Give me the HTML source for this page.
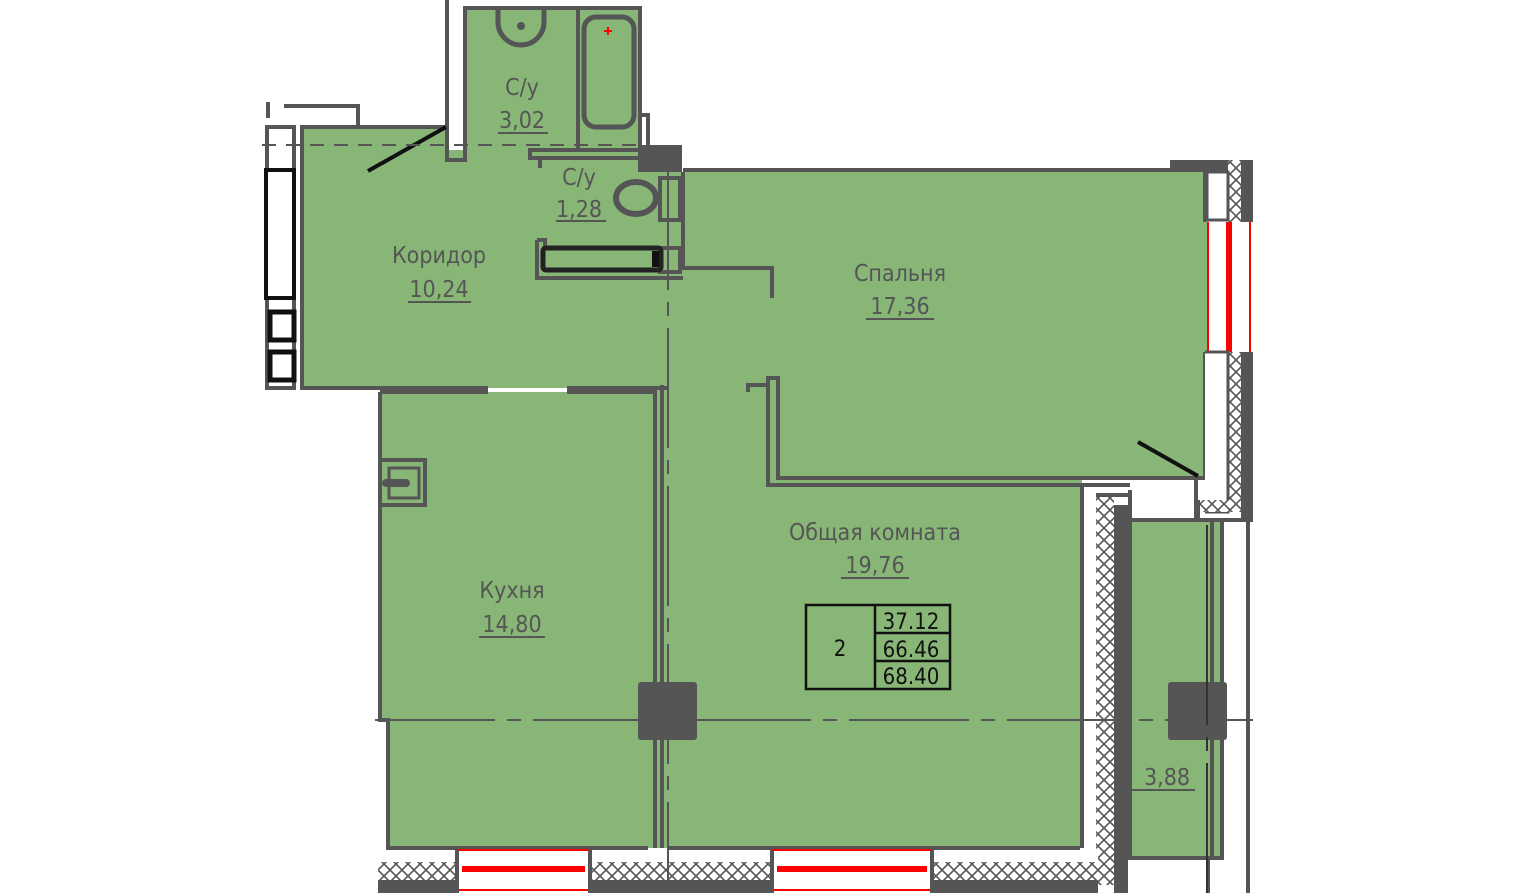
<!DOCTYPE html>
<html><head><meta charset="utf-8"><style>
html,body{margin:0;padding:0;background:#fff;}
svg{display:block;}
text{font-family:"DejaVu Sans Condensed","Liberation Sans",sans-serif;fill:#555;}
</style></head><body>
<svg width="1516" height="893" viewBox="0 0 1516 893" xmlns="http://www.w3.org/2000/svg">
<defs>
<pattern id="h" width="12" height="12" patternUnits="userSpaceOnUse">
<rect width="12" height="12" fill="#fff"/>
<path d="M0 0L12 12M12 0L0 12" stroke="#555" stroke-width="1.6"/>
</pattern>
</defs>
<g fill="#88b677">
<rect x="302" y="127" width="145" height="261"/>
<rect x="447" y="150" width="221" height="238"/>
<rect x="465" y="10" width="175" height="140"/>
<rect x="668" y="172" width="539" height="306"/>
<rect x="655" y="385" width="427" height="463"/>
<rect x="380" y="392" width="275" height="328"/>
<rect x="388" y="720" width="267" height="128"/>
<rect x="1130" y="520" width="92" height="338"/>
</g>
<g fill="none" stroke="#555" stroke-width="4">
<path d="M358 127 V106 H284 M268 102 V118"/>
<path d="M445 127 H302 V388 H488"/>
<path d="M567 388 H668"/>
<rect x="267" y="127" width="27" height="261"/>
<path d="M447 0 V160 H465 V8 H640 V150 H578 V10"/>
<path d="M640 115 H648 V150"/>
<path d="M528 150 H640 M528 158 H640 M540 158 V168 M530 150 V158"/>
<path d="M683 172 V268 H772 V298 M537 240 V278 H683"/>
<path d="M537 240 H545 V248 H683"/>
<rect x="660" y="178" width="20" height="42"/>
<rect x="660" y="248" width="20" height="24"/>
<path d="M683 170 H1205 V222 M1205 352 V478 H778 V378 H768 V385 H748 V392 M768 385 V485 H1082 V848"/>
<path d="M380 392 H488 M567 392 H655 V848 M662 385 V848 M380 392 V720 H388 V848 H648 M668 848 H1080"/>
<path d="M1130 490 V520 H1222 V858 H1130 V520 M1212 520 V858 M1196 478 V520 M1082 485 H1130"/>
<path d="M1248 520 V893 M1208 858 V893"/>
</g>
<path d="M498 10 V22 A23 23 0 0 0 544 22 V10" fill="none" stroke="#555" stroke-width="5"/>
<circle cx="521" cy="26" r="4" fill="#555"/>
<rect x="584" y="17" width="50" height="110" rx="12" fill="none" stroke="#555" stroke-width="5"/>
<path d="M604 31h8M608 27v8" stroke="red" stroke-width="2"/>
<ellipse cx="636" cy="198" rx="20" ry="16" fill="none" stroke="#555" stroke-width="6"/>
<rect x="543" y="248" width="118" height="22" rx="3" fill="none" stroke="#222" stroke-width="5"/>
<rect x="652" y="251" width="7" height="16" fill="#111"/>
<rect x="380" y="460" width="45" height="45" fill="none" stroke="#555" stroke-width="4"/>
<rect x="389" y="468" width="30" height="30" fill="none" stroke="#555" stroke-width="3"/>
<path d="M386 483 H406" stroke="#555" stroke-width="8" stroke-linecap="round"/>
<rect x="266" y="170" width="28" height="128" fill="#fff" stroke="#111" stroke-width="4"/>
<rect x="270" y="312" width="24" height="28" fill="#fff" stroke="#111" stroke-width="5"/>
<rect x="270" y="352" width="24" height="28" fill="#fff" stroke="#111" stroke-width="5"/>
<path d="M368 171 L446 127" stroke="#111" stroke-width="4"/>
<path d="M1138 442 L1198 476" stroke="#111" stroke-width="4"/>
<rect x="638" y="145" width="44" height="27" fill="#555"/>
<rect x="1170" y="160" width="58" height="12" fill="#555"/>
<rect x="638" y="682" width="59" height="58" rx="3" fill="#555"/>
<rect x="1168" y="682" width="59" height="58" rx="3" fill="#555"/>
<rect x="1228" y="160" width="13" height="62" fill="url(#h)"/>
<rect x="1241" y="160" width="12" height="62" fill="#555"/>
<rect x="1207" y="172" width="21" height="48" fill="#fff" stroke="#555" stroke-width="3"/>
<rect x="1207" y="222" width="44" height="130" fill="#fff"/>
<path d="M1208 222 V352 M1250 222 V352" stroke="red" stroke-width="2"/>
<path d="M1229 222 V352" stroke="red" stroke-width="6"/>
<rect x="1228" y="352" width="13" height="160" fill="url(#h)"/>
<rect x="1241" y="352" width="12" height="170" fill="#555"/>
<path d="M1205 352 H1228 V512 H1205" fill="#fff" stroke="#555" stroke-width="3"/>
<rect x="1198" y="500" width="43" height="12" fill="url(#h)"/>
<path d="M1198 500 V520 H1253" stroke="#555" stroke-width="4" fill="none"/>
<rect x="1096" y="495" width="18" height="390" fill="url(#h)"/>
<rect x="1114" y="505" width="14" height="388" fill="#555"/>
<path d="M1096 495 H1130" stroke="#555" stroke-width="4"/>
<rect x="1084" y="490" width="12" height="360" fill="#fff"/>
<rect x="378" y="850" width="720" height="43" fill="#fff"/>
<rect x="378" y="862" width="720" height="18" fill="url(#h)"/>
<rect x="378" y="880" width="720" height="13" fill="#555"/>
<rect x="457" y="850" width="133" height="43" fill="#fff"/>
<rect x="772" y="850" width="160" height="43" fill="#fff"/>
<g stroke="red">
<path d="M457 850H590M457 890H590M772 850H932M772 890H932" stroke-width="2"/>
<path d="M462 869H585M777 869H927" stroke-width="6"/>
</g>
<path d="M457 850V893M590 850V893M772 850V893M932 850V893" stroke="#555" stroke-width="4"/>
<path d="M375 720 H1253" stroke="#555" stroke-width="2" stroke-dasharray="120 12 14 12"/>
<path d="M668 170 V893" stroke="#555" stroke-width="2" stroke-dasharray="120 12 14 12"/>
<path d="M262 145 H640" stroke="#555" stroke-width="2" stroke-dasharray="14 10"/>
<path d="M1207 525 V893" stroke="#333" stroke-width="2" stroke-dasharray="200 12 14 12"/>
<g font-size="23" text-anchor="middle">
<text x="522" y="95">С/у</text><text x="522" y="128">3,02</text>
<text x="579" y="185">С/у</text><text x="579" y="217">1,28</text>
<text x="439" y="263">Коридор</text><text x="439" y="297">10,24</text>
<text x="900" y="281">Спальня</text><text x="900" y="314">17,36</text>
<text x="875" y="540">Общая комната</text><text x="875" y="573">19,76</text>
<text x="512" y="598">Кухня</text><text x="512" y="632">14,80</text>
<text x="1167" y="785">3,88</text>
</g>
<g stroke="#555" stroke-width="2">
<path d="M498 133H548M556 221H606M408 302H471M866 319H934M841 578H909M479 637H545M1131 790H1195"/>
</g>
<g fill="none" stroke="#111" stroke-width="2.5">
<rect x="806" y="605" width="144" height="84"/>
<path d="M875 605V689M875 633H950M875 661H950"/>
</g>
<g font-size="22" text-anchor="middle">
<text x="840" y="656" style="fill:#111">2</text>
<text x="911" y="629" style="fill:#111">37.12</text>
<text x="911" y="657" style="fill:#111">66.46</text>
<text x="911" y="684" style="fill:#111">68.40</text>
</g>
</svg>
</body></html>
